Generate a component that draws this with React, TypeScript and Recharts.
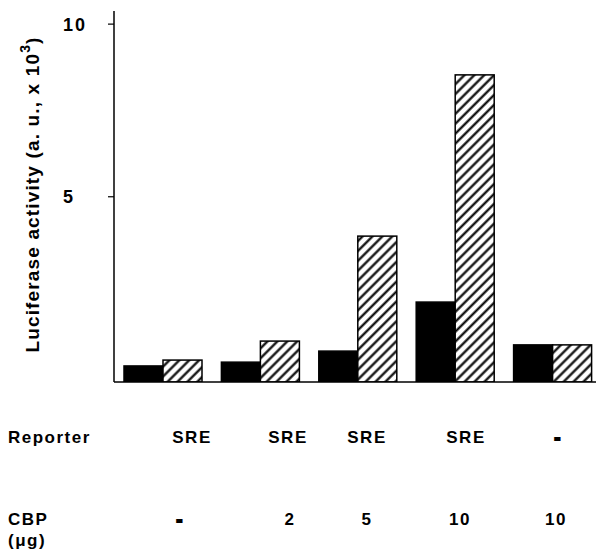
import React from 'react';
import { BarChart, Bar, XAxis, YAxis } from 'recharts';

const categories = ['SRE / -', 'SRE / 2', 'SRE / 5', 'SRE / 10', '- / 10'];
const blackValues = [0.1, 0.21, 0.53, 1.95, 0.71];
const hatchedValues = [0.27, 0.82, 3.86, 8.53, 0.71];
const yTicks = [5, 10];
const reporterLabels = ['SRE', 'SRE', 'SRE', 'SRE', '-'];
const cbpLabels = ['-', '2', '5', '10', '10'];
const reporterX = [192, 288, 367, 466, 558];
const cbpX = [180, 290, 367, 460, 556];

const data = categories.map((c, i) => ({ category: c, black: blackValues[i], hatched: hatchedValues[i] }));

const FONT = '"Liberation Sans", Arial, Helvetica, sans-serif';

const BarShape = (props: any) => {
  const { x, y, width, height, fill, background } = props;
  const bottom = background ? background.y + background.height : y + height;
  return <rect x={x} y={y} width={width} height={Math.max(0, bottom - y)} fill={fill} stroke="#000" strokeWidth={1.5} />;
};

const YTick = (props: any) => {
  const { y, payload } = props;
  return (
    <text x={63} y={y} dy={6.5} textAnchor="start" fontFamily={FONT} fontWeight="bold" fontSize={18} letterSpacing={2} fill="#000">
      {payload.value}
    </text>
  );
};

const YLabel = (props: any) => {
  const vb = props.viewBox || { x: 0, y: 11, width: 114, height: 371 };
  const cx = 32;
  const cy = vb.y + vb.height / 2 - 2;
  return (
    <text x={cx} y={cy} transform={`rotate(-90 ${cx} ${cy})`} textAnchor="middle" dominantBaseline="central" fontFamily={FONT} fontWeight="bold" fontSize={19} letterSpacing={1.15} fill="#000">
      <tspan>Luciferase activity (a. u., x 10</tspan>
      <tspan dy={-7} fontSize={14}>3</tspan>
      <tspan dy={7}>)</tspan>
    </text>
  );
};

export default function App() {
  return (
    <div style={{ position: 'absolute', left: 0, top: 0, width: 596, height: 552, overflow: 'hidden', background: '#fff' }}>
      <svg width={0} height={0} style={{ position: 'absolute' }}>
        <defs>
          <pattern id="hatch" width={7} height={7} patternUnits="userSpaceOnUse" patternTransform="rotate(45)">
            <rect width={7} height={7} fill="#fff" />
            <line x1={3.5} y1={0} x2={3.5} y2={7} stroke="#000" strokeWidth={2.2} />
          </pattern>
        </defs>
      </svg>
      <div style={{ position: 'absolute', left: 0, top: 0 }}>
        <BarChart width={602} height={390} data={data} margin={{ top: 11, right: 1, bottom: 0, left: 0 }} barGap={0} barSize={39}>
          <XAxis dataKey="category" tick={false} tickLine={false} height={8} axisLine={{ stroke: '#000', strokeWidth: 1.5 }} />
          <YAxis
            type="number"
            domain={[-0.365, 10.38]}
            ticks={yTicks}
            allowDataOverflow
            width={114}
            tickSize={6}
            tickLine={{ stroke: '#000', strokeWidth: 1.2 }}
            axisLine={{ stroke: '#000', strokeWidth: 1.5 }}
            tick={<YTick />}
            label={<YLabel />}
          />
          <Bar dataKey="black" fill="#000" shape={<BarShape />} isAnimationActive={false} />
          <Bar dataKey="hatched" fill="url(#hatch)" shape={<BarShape />} isAnimationActive={false} />
        </BarChart>
      </div>
      <svg width={596} height={552} style={{ position: 'absolute', left: 0, top: 0, pointerEvents: 'none' }}>
        <g fontFamily={FONT} fontWeight="bold" fontSize={17} letterSpacing={1.5} fill="#000">
          <text x={8} y={443}>Reporter</text>
          {reporterLabels.map((l, i) => (
            <text key={'r' + i} x={reporterX[i]} y={443} textAnchor="middle" stroke={l === '-' ? '#000' : 'none'} strokeWidth={l === '-' ? 2 : 0}>{l}</text>
          ))}
          <text x={8} y={525}>CBP</text>
          <text x={8} y={546}>(μg)</text>
          {cbpLabels.map((l, i) => (
            <text key={'c' + i} x={cbpX[i]} y={525} textAnchor="middle" stroke={l === '-' ? '#000' : 'none'} strokeWidth={l === '-' ? 2 : 0}>{l}</text>
          ))}
        </g>
      </svg>
    </div>
  );
}
